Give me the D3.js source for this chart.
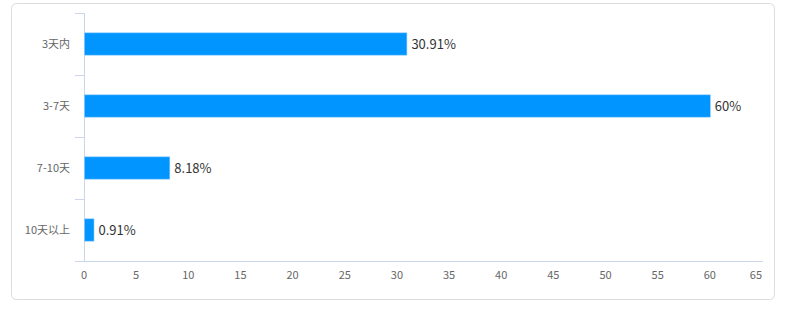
<!DOCTYPE html>
<html>
<head>
<meta charset="utf-8">
<script src="https://cdn.jsdelivr.net/npm/d3@7/dist/d3.min.js"></script>
<style>
  body { margin: 0; background: #fff; }
  text { font-family: "Noto Sans CJK SC", "Noto Sans", sans-serif; }
</style>
</head>
<body>
<div id="chart"></div>
<script>
var categories = ['3天内', '3-7天', '7-10天', '10天以上'];
var values = [30.91, 60, 8.18, 0.91];
var labels = ['30.91%', '60%', '8.18%', '0.91%'];
var xTicks = [0, 5, 10, 15, 20, 25, 30, 35, 40, 45, 50, 55, 60, 65];

var width = 785, height = 309;

var svg = d3.select('#chart').append('svg')
    .attr('width', width).attr('height', height);

// card frame
svg.append('rect')
    .attr('x', 11.5).attr('y', 3.5)
    .attr('width', 763).attr('height', 296)
    .attr('rx', 5).attr('ry', 5)
    .attr('fill', '#fff')
    .attr('stroke', '#dcdcdc');

var x = d3.scaleLinear().domain([0, 65]).range([84, 762]);
var y = d3.scaleBand().domain(categories).range([13, 261]).paddingInner(0.64).paddingOuter(0.32);
var band = d3.scaleBand().domain(categories).range([13, 261]);

// y axis line and ticks between categories
svg.append('line')
    .attr('x1', 84.5).attr('x2', 84.5)
    .attr('y1', 13).attr('y2', 261)
    .attr('stroke', '#ccd6eb');

var bounds = categories.map(function (c) { return band(c); }).concat([261]);
svg.selectAll('line.ytick')
    .data(bounds)
    .enter()
        .append('line')
        .attr('class', 'ytick')
        .attr('x1', 75).attr('x2', 84)
        .attr('y1', function (d) { return Math.round(d) + 0.5; })
        .attr('y2', function (d) { return Math.round(d) + 0.5; })
        .attr('stroke', '#ccd6eb');

// x axis
svg.append('line')
    .attr('x1', 75).attr('x2', 763)
    .attr('y1', 261.5).attr('y2', 261.5)
    .attr('stroke', '#ccd6eb');

svg.selectAll('text.xtick')
    .data(xTicks)
    .enter()
        .append('text')
        .attr('class', 'xtick')
        .attr('x', function (d) { return x(d); })
        .attr('y', 279)
        .attr('text-anchor', function (d, i) { return i === xTicks.length - 1 ? 'end' : 'middle'; })
        .style('font-size', '11px')
        .style('fill', '#666')
        .text(function (d) { return d; });

// category labels
svg.selectAll('text.cat')
    .data(categories)
    .enter()
        .append('text')
        .attr('class', 'cat')
        .attr('x', 70)
        .attr('y', function (d) { return band(d) + band.bandwidth() / 2; })
        .attr('dy', '0.35em')
        .attr('text-anchor', 'end')
        .style('font-size', '11px')
        .style('fill', '#666')
        .text(function (d) { return d; });

// bars
svg.selectAll('rect.bar')
    .data(values)
    .enter()
        .append('rect')
        .attr('class', 'bar')
        .attr('x', x(0) + 0.5)
        .attr('y', function (d, i) { return y(categories[i]); })
        .attr('width', function (d) { return x(d) - x(0); })
        .attr('height', y.bandwidth())
        .attr('fill', '#0095ff')
        .attr('stroke', '#8fcaff')
        .attr('stroke-width', 0.6);

// value labels
svg.selectAll('text.val')
    .data(values)
    .enter()
        .append('text')
        .attr('class', 'val')
        .attr('x', function (d) { return x(d) + 5; })
        .attr('y', function (d, i) { return y(categories[i]) + y.bandwidth() / 2; })
        .attr('dy', '0.35em')
        .style('font-size', '13px')
        .style('fill', '#333')
        .text(function (d, i) { return labels[i]; });
</script>
</body>
</html>
